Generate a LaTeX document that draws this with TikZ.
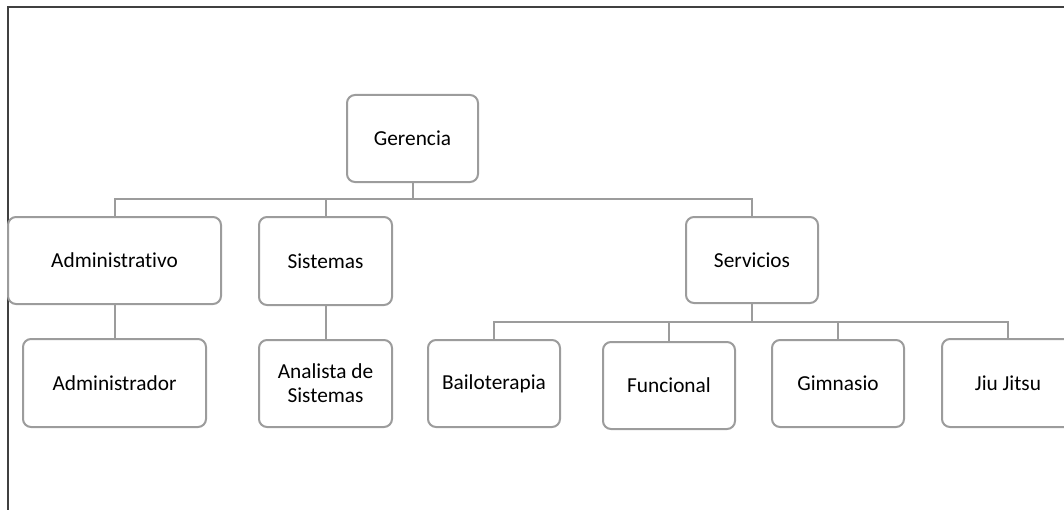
\documentclass[tikz,border=0pt]{standalone}
\usepackage{fontspec}
\setmainfont[Ligatures=NoCommon]{Carlito}
\begin{document}
\begin{tikzpicture}[x=0.75pt,y=-0.75pt,
  box/.style={draw=boxgray, line width=1.5pt, rounded corners=6pt, fill=white,
    align=center, inner sep=0pt, font=\fontsize{16}{18}\selectfont},
  link/.style={draw=boxgray, line width=1.5pt}]
\definecolor{boxgray}{HTML}{9C9C9C}
\definecolor{framegray}{HTML}{404040}
\useasboundingbox (0,0) rectangle (1064,510);
\clip (0,0) rectangle (1064,510);
% page frame
\draw[framegray, line width=1pt] (8,510) -- (8,7) -- (1064,7);

% top level
\node[box, minimum width=98.25pt, minimum height=65.25pt] (ger) at (412.5,138.5) {Gerencia};
% departments
\node[box, minimum width=159.75pt, minimum height=65.25pt] (adm) at (114.5,260.5) {Administrativo};
\node[box, minimum width=99.75pt, minimum height=66pt] (sis) at (325.5,261) {Sistemas};
\node[box, minimum width=99pt, minimum height=64.5pt] (ser) at (752,260) {Servicios};
% staff
\node[box, minimum width=137.25pt, minimum height=66pt] (admr) at (114.5,383) {Administrador};
\node[box, minimum width=99.75pt, minimum height=65.25pt] (ana) at (325.5,383.5) {Analista de\\Sistemas};
% services
\node[box, minimum width=99pt, minimum height=65.25pt] (bai) at (494,383.5) {Bailoterapia};
\node[box, minimum width=99pt, minimum height=65.25pt] (fun) at (669,385.5) {Funcional};
\node[box, minimum width=99pt, minimum height=65.25pt] (gim) at (838,383.5) {Gimnasio};
\node[box, minimum width=99pt, minimum height=66pt] (jiu) at (1008,383) {Jiu Jitsu};

% bus lines
\coordinate (bus1) at (412.5,199);
\coordinate (bus2) at (752,322);

\draw[link] (ger.south) -- (bus1);
\draw[link] (bus1) -| (adm.north);
\draw[link] (bus1) -| (sis.north);
\draw[link] (bus1) -| (ser.north);
\draw[link] (adm.south) -- (admr.north);
\draw[link] (sis.south) -- (ana.north);
\draw[link] (ser.south) -- (bus2);
\draw[link] (bus2) -| (bai.north);
\draw[link] (bus2) -| (fun.north);
\draw[link] (bus2) -| (gim.north);
\draw[link] (bus2) -| (jiu.north);
\end{tikzpicture}
\end{document}
